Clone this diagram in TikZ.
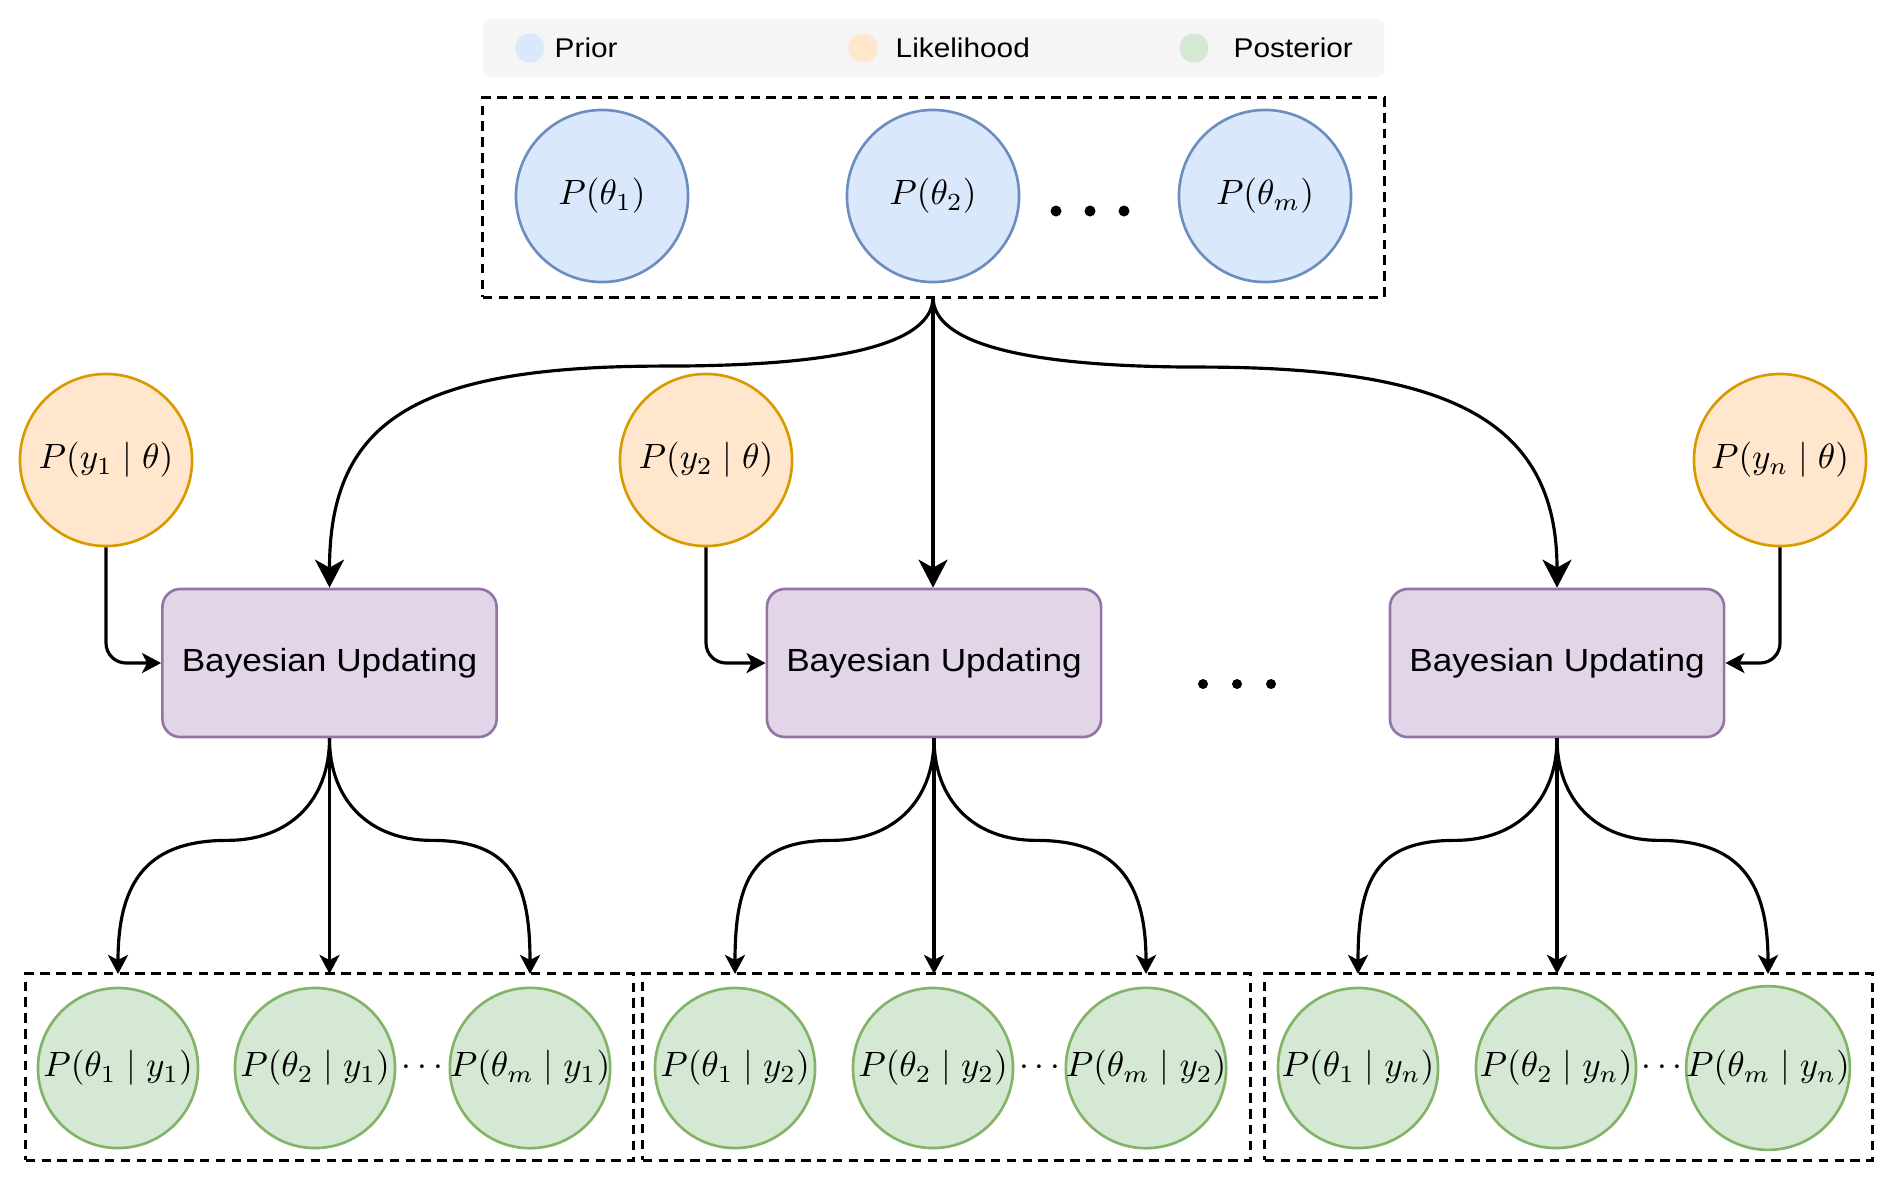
\documentclass[tikz,border=0pt]{standalone}
\usepackage{fontspec}
\usetikzlibrary{arrows.meta,calc}
\newfontfamily\labelfont[FakeStretch=1.1]{Liberation Sans}
\definecolor{priorfill}{HTML}{DAE8FC}
\definecolor{priordraw}{HTML}{6C8EBF}
\definecolor{likefill}{HTML}{FFE6CC}
\definecolor{likedraw}{HTML}{D79B00}
\definecolor{postfill}{HTML}{D5E8D4}
\definecolor{postdraw}{HTML}{82B366}
\definecolor{bayesfill}{HTML}{E1D5E7}
\definecolor{bayesdraw}{HTML}{9673A6}
\definecolor{legendbg}{HTML}{F5F5F5}
\begin{document}
\begin{tikzpicture}[x=0.01cm, y=0.01cm,
  prior/.style={circle, draw=priordraw, fill=priorfill, line width=0.75pt,
                minimum size=1.72cm, inner sep=0pt, font=\fontsize{10.3}{12}\selectfont},
  like/.style={circle, draw=likedraw, fill=likefill, line width=0.75pt,
               minimum size=1.72cm, inner sep=0pt, font=\fontsize{10.3}{12}\selectfont},
  post/.style={circle, draw=postdraw, fill=postfill, line width=0.75pt,
               minimum size=1.60cm, inner xsep=0pt, inner ysep=-3pt,
               font=\fontsize{10}{12}\selectfont},
  bayes/.style={draw=bayesdraw, fill=bayesfill, rectangle, rounded corners=0.18cm,
                line width=0.75pt, minimum width=3.34cm, minimum height=1.48cm,
                font=\labelfont\fontsize{9.1}{11}\selectfont},
  group/.style={draw, dash pattern=on 2.7pt off 1.8pt, line width=0.85pt,
                rectangle, inner sep=0pt, outer sep=0pt},
  legendbar/.style={fill=legendbg, rounded corners=0.08cm, minimum width=9.01cm,
                    minimum height=0.58cm, inner sep=0pt},
  key/.style={circle, fill=#1, minimum size=0.29cm, inner sep=0pt},
  keytxt/.style={anchor=west, inner sep=0pt, font=\labelfont\fontsize{7.7}{9}\selectfont},
  a/.style={line width=0.9pt, -{Stealth[length=0.19cm, width=0.2cm, inset=0.05cm]}},
  abig/.style={line width=0.9pt, -{Stealth[length=0.28cm, width=0.29cm, inset=0.08cm]}}]

  \useasboundingbox (0,0) rectangle (1892,-1181);

  \node[legendbar] (legend) at (933.5,-48) {};
  \node[key=priorfill] (kprior) at (530,-48) {};
  \node[key=likefill]  (klike)  at (863,-48) {};
  \node[key=postfill]  (kpost)  at (1194,-48) {};
  \node[keytxt] (tprior) at (554,-48)  {Prior};
  \node[keytxt] (tlike)  at (895,-48)  {Likelihood};
  \node[keytxt] (tpost)  at (1233,-48) {Posterior};

  \node[group, minimum width=9.01cm, minimum height=1.99cm] (prbox) at (933.5,-197.5) {};
  \node[group, minimum width=6.07cm, minimum height=1.86cm] (pb1) at (329.5,-1067) {};
  \node[group, minimum width=6.07cm, minimum height=1.86cm] (pb2) at (946.5,-1067) {};
  \node[group, minimum width=6.07cm, minimum height=1.86cm] (pb3) at (1568.5,-1067) {};

  \node[prior] (pr1) at (602,-196)  {$P(\theta_1)$};
  \node[prior] (pr2) at (933,-196)  {$P(\theta_2)$};
  \node[prior] (pr3) at (1265,-196) {$P(\theta_m)$};
  \foreach \x in {1056,1090,1124} \fill (\x,-211) circle[radius=0.055cm];

  \node[like] (lk1) at (106,-460)  {$P(y_1 \mid \theta)$};
  \node[like] (lk2) at (706,-460)  {$P(y_2 \mid \theta)$};
  \node[like] (lk3) at (1780,-460) {$P(y_n \mid \theta)$};

  \node[bayes] (b1) at (329.5,-663) {Bayesian Updating};
  \node[bayes] (b2) at (934,-663)   {Bayesian Updating};
  \node[bayes] (b3) at (1557,-663)  {Bayesian Updating};
  \foreach \x in {1203,1237,1271} \fill (\x,-684) circle[radius=0.05cm];

  \node[post] (p11) at (118,-1068)  {$P(\theta_1 \mid y_1)$};
  \node[post] (p12) at (315,-1068)  {$P(\theta_2 \mid y_1)$};
  \node[post] (p13) at (530,-1068)  {$P(\theta_m \mid y_1)$};
  \node[post] (p21) at (735,-1068)  {$P(\theta_1 \mid y_2)$};
  \node[post] (p22) at (933,-1068)  {$P(\theta_2 \mid y_2)$};
  \node[post] (p23) at (1146,-1068) {$P(\theta_m \mid y_2)$};
  \node[post] (p31) at (1358,-1068) {$P(\theta_1 \mid y_n)$};
  \node[post] (p32) at (1556,-1068) {$P(\theta_2 \mid y_n)$};
  \node[post] (p33) at (1768,-1068) {$P(\theta_m \mid y_n)$};
  \node[font=\fontsize{10}{12}\selectfont] (d1) at ($(p12)!0.5!(p13)$) {$\cdots$};
  \node[font=\fontsize{10}{12}\selectfont] (d2) at ($(p22)!0.5!(p23)$) {$\cdots$};
  \node[font=\fontsize{10}{12}\selectfont] (d3) at ($(p32)!0.5!(p33)$) {$\cdots$};

  \coordinate (src) at (pr2 |- prbox.south);
  \draw[abig] (src) .. controls +(0,-47) and +(175,0) .. ++(-268,-69)
                    .. controls +(-245,0) and +(0,170) .. (b1.north);
  \draw[abig] (src) -- (src |- b2.north);
  \draw[abig] (src) .. controls +(0,-47) and +(-173,0) .. ++(267,-70)
                    .. controls +(245,0) and +(0,170) .. (b3.north);

  \draw[a, rounded corners=0.2cm] (lk1.south) |- (b1.west);
  \draw[a, rounded corners=0.2cm] (lk2.south) |- (b2.west);
  \draw[a, rounded corners=0.2cm] (lk3.south) |- (b3.east);

  \draw[a] (b1.south) .. controls +(0,-62) and +(62,0) .. ++(-102,-102)
                      .. controls +(-78,0) and +(0,95) .. (p11 |- pb1.north);
  \draw[a] (b1.south) -- (b1.south |- pb1.north);
  \draw[a] (b1.south) .. controls +(0,-62) and +(-62,0) .. ++(102,-102)
                      .. controls +(78,0) and +(0,95) .. (p13 |- pb1.north);
  \draw[a] (b2.south) .. controls +(0,-62) and +(62,0) .. ++(-102,-102)
                      .. controls +(-78,0) and +(0,95) .. (p21 |- pb2.north);
  \draw[a] (b2.south) -- (b2.south |- pb2.north);
  \draw[a] (b2.south) .. controls +(0,-62) and +(-62,0) .. ++(102,-102)
                      .. controls +(78,0) and +(0,95) .. (p23 |- pb2.north);
  \draw[a] (b3.south) .. controls +(0,-62) and +(62,0) .. ++(-102,-102)
                      .. controls +(-78,0) and +(0,95) .. (p31 |- pb3.north);
  \draw[a] (b3.south) -- (b3.south |- pb3.north);
  \draw[a] (b3.south) .. controls +(0,-62) and +(-62,0) .. ++(102,-102)
                      .. controls +(78,0) and +(0,95) .. (p33 |- pb3.north);

\end{tikzpicture}
\end{document}
